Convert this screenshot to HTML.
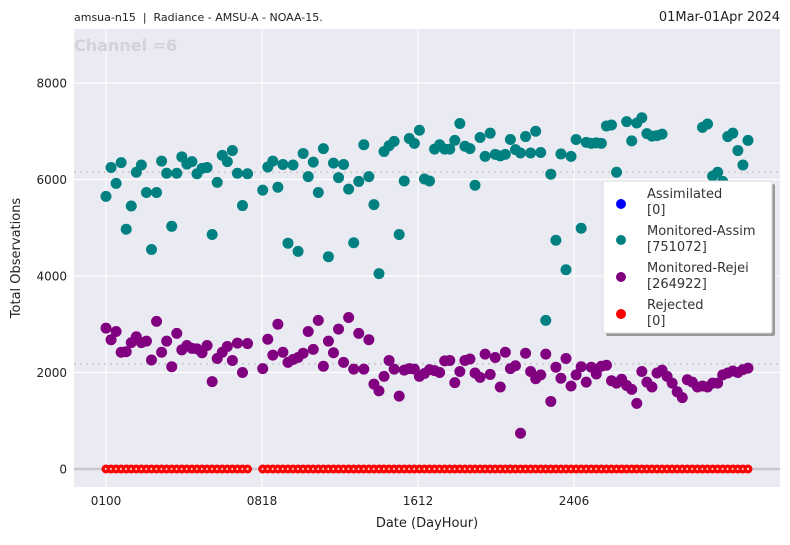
<!DOCTYPE html>
<html><head><meta charset="utf-8"><style>
body{margin:0;background:#fff;font-family:"Liberation Sans","DejaVu Sans",sans-serif;}
svg text{font-family:"DejaVu Sans","Liberation Sans",sans-serif;}
</style></head><body>
<svg id="chart" width="790" height="540" xmlns="http://www.w3.org/2000/svg">
<rect x="74" y="29" width="706" height="458" fill="#eaeaf2"/>
<g id="grid"></g>
<g id="marks"></g>
<text x="74" y="21" font-size="11" fill="#222" style="white-space:pre" xml:space="preserve">amsua-n15  |  Radiance - AMSU-A - NOAA-15.</text>
<text x="780" y="21" font-size="13" fill="#222" text-anchor="end">01Mar-01Apr 2024</text>
<text x="74" y="51" font-size="16" font-weight="bold" fill="#d2d2da">Channel =6</text>
<text x="427" y="527" font-size="13" fill="#222" text-anchor="middle">Date (DayHour)</text>
<text transform="translate(20,258) rotate(-90)" font-size="13" fill="#222" text-anchor="middle">Total Observations</text>
<g>
<rect x="606" y="184" width="169" height="152" fill="#999" rx="2"/>
<rect x="603" y="181" width="169" height="152" fill="#fff" stroke="#ddd" rx="2"/>
<circle cx="621" cy="204" r="5" fill="#0000ff"/>
<text x="647" y="198" font-size="13" fill="#333">Assimilated</text>
<text x="647" y="214" font-size="13" fill="#333">[0]</text>
<circle cx="621" cy="240" r="5" fill="#008080"/>
<text x="647" y="235" font-size="13" fill="#333">Monitored-Assim</text>
<text x="647" y="251" font-size="13" fill="#333">[751072]</text>
<circle cx="621" cy="277" r="5" fill="#800080"/>
<text x="647" y="272" font-size="13" fill="#333">Monitored-Rejei</text>
<text x="647" y="288" font-size="13" fill="#333">[264922]</text>
<circle cx="621" cy="314" r="5" fill="#ff0000"/>
<text x="647" y="309" font-size="13" fill="#333">Rejected</text>
<text x="647" y="325" font-size="13" fill="#333">[0]</text>
</g>
</svg>
<script>
const yTicks=[0,2000,4000,6000,8000];
const xTickIdx=[0,31,62,93];
const xTickLabels=["0100","0818","1612","2406"];
const teal=[5650,6250,5920,6350,4970,5450,6150,6300,5730,4550,5730,6380,6130,5030,6130,6470,6320,6370,6120,6230,6250,4860,5940,6500,6370,6600,6130,5460,6120,null,null,
5780,6260,6380,5840,6310,4680,6300,4510,6540,6060,6360,5730,6640,4400,6340,6040,6310,5800,4690,5960,6720,6060,5480,4050,6580,6700,6790,4860,5970,6850,6750,7020,6010,5970,6630,6720,6630,6630,6810,7160,6690,6640,5880,6870,6480,6960,6520,6490,6520,6830,6620,6550,6890,6550,7000,6560,3080,6110,4740,6530,4130,6480,6830,4990,6770,6750,6760,6750,7110,7130,6150,5500,7200,6800,7170,7280,6950,6900,6910,6940,5200,5100,5300,5200,5100,5300,5200,7080,7150,6070,6150,5960,6890,6960,6600,6300,6810];
const purple=[2920,2680,2850,2420,2430,2620,2740,2620,2650,2260,3060,2420,2650,2120,2810,2470,2560,2500,2490,2410,2560,1810,2290,2420,2540,2250,2610,2000,2600,null,null,
2080,2690,2360,3000,2420,2210,2270,2310,2400,2850,2480,3080,2130,2650,2410,2900,2210,3140,2070,2810,2070,2680,1760,1620,1920,2250,2070,1510,2050,2080,2070,1920,1980,2060,2040,2000,2240,2250,1790,2020,2250,2280,1990,1900,2380,1960,2310,1700,2420,2080,2140,740,2400,2020,1870,1950,2380,1400,2110,1880,2290,1720,1950,2120,1800,2110,1970,2130,2150,1830,1780,1860,1730,1650,1360,2020,1800,1700,1990,2050,1920,1780,1600,1480,1850,1800,1700,1720,1700,1780,1780,1950,1990,2030,2000,2060,2090];
const rejected=teal.map(v=>v===null?null:0);
const teamMean=6150, purpleMean=2180;
const NS="http://www.w3.org/2000/svg";
const X=i=>106+i*5.055;
const Y=v=>469-v*0.04825;
const grid=document.getElementById('grid'), marks=document.getElementById('marks');
function mk(tag,attrs,parent){const e=document.createElementNS(NS,tag);for(const k in attrs)e.setAttribute(k,attrs[k]);parent.appendChild(e);return e;}
const svg=document.getElementById('chart');
yTicks.forEach(t=>{
 const l=mk('line',{x1:74,x2:780,y1:Y(t),y2:Y(t),stroke:'#fff','stroke-width':1.2},grid);
 
 
 const tx=mk('text',{x:67,y:Y(t)+4.5,'font-size':12,fill:'#222','text-anchor':'end'},svg);
 tx.textContent=t;
 
 
});
xTickIdx.forEach((t,k)=>{
 const xp=106+t*5.032;
 const l=mk('line',{x1:xp,x2:xp,y1:29,y2:487,stroke:'#fff','stroke-width':1.2},grid);
 
 
 const tx=mk('text',{x:xp,y:505,'font-size':12,fill:'#222','text-anchor':'middle'},svg);
 tx.textContent=xTickLabels[k];
 
 
});
const zl=mk('line',{x1:74,x2:780,y1:Y(0),y2:Y(0),stroke:'#c8c8cc','stroke-width':2.5},grid);


[teamMean,purpleMean].forEach(m=>{
 const l=mk('line',{x1:74,x2:780,y1:Y(m),y2:Y(m),stroke:'#cfcfd4','stroke-width':2,'stroke-dasharray':'2,4'},grid);
 
 
});
teal.forEach((v,i)=>{if(v===null)return;
 const c=mk('circle',{cx:X(i),cy:Y(v),r:5.5,fill:'#008080'},marks);
 
 });
purple.forEach((v,i)=>{if(v===null)return;
 const c=mk('circle',{cx:X(i),cy:Y(v),r:5.5,fill:'#800080'},marks);
 
 });
rejected.forEach((v,i)=>{if(v===null)return;
 const c=mk('circle',{cx:X(i),cy:Y(v),r:4.5,fill:'#ff0000'},marks);
 
 
 mk('circle',{cx:X(i),cy:Y(v),r:1.2,fill:'#f4d0d0'},marks);});
</script>
</body></html>
